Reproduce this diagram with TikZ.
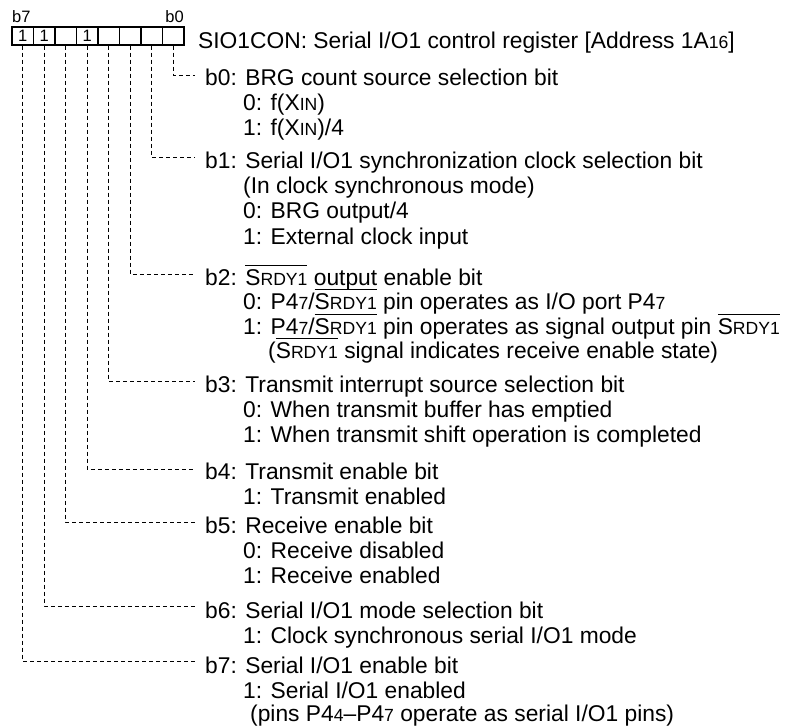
\documentclass[tikz,border=0pt]{standalone}
\usepackage{fontspec}
\setmainfont{Liberation Sans}
\newcommand\sm[1]{{\fontsize{17.6pt}{17.6pt}\selectfont #1}}
\newcommand\ovl[1]{\setbox0\hbox{#1}\rlap{\rule[\dimexpr\ht0+3.5pt\relax]{\wd0}{1pt}}\box0\relax}
\tikzset{
  txt/.style={anchor=base west, inner sep=0pt, font=\fontsize{22.8pt}{25pt}\selectfont, text=black},
  cell/.style={draw, line width=1.2pt, minimum width=21.5pt, minimum height=18pt, inner sep=0pt, font=\fontsize{16.5pt}{16.5pt}\selectfont},
  bitlab/.style={inner sep=0pt, font=\fontsize{16.5pt}{16.5pt}\selectfont},
  conn/.style={draw, line width=0.7pt, dash pattern=on 4pt off 3pt}
}
\begin{document}
\begin{tikzpicture}[x=1pt,y=-1pt]
\useasboundingbox (0,0) rectangle (788,726);
% register cells
\foreach \k/\v in {7/1,6/1,5/,4/1,3/,2/,1/,0/}
  \node[cell] (c\k) at ({22.75+(7-\k)*21.5},36) {\v};
\node[bitlab, anchor=base west] (lb7) at (12,22) {b7};
\node[bitlab, anchor=base east] (lb0) at (184,22) {b0};
\node[txt] (title) at (198,48) {SIO1CON: Serial I/O1 control register [Address 1A\sm{16}]};
% b0
\node[txt] (b0) at (205,85) {b0: BRG count source selection bit};
\node[txt] (b0a) at (243,110) {0: f(X\sm{IN})};
\node[txt] (b0b) at (243,135) {1: f(X\sm{IN})/4};
% b1
\node[txt] (b1) at (205,168) {b1: Serial I/O1 synchronization clock selection bit};
\node[txt] (b1a) at (243,193) {(In clock synchronous mode)};
\node[txt] (b1b) at (243,218.5) {0: BRG output/4};
\node[txt] (b1c) at (243,244) {1: External clock input};
% b2
\node[txt] (b2) at (205,285) {b2: \ovl{S\sm{RDY1}} output enable bit};
\node[txt] (b2a) at (243,309.5) {0: P4\sm{7}/\ovl{S\sm{RDY1}} pin operates as I/O port P4\sm{7}};
\node[txt] (b2b) at (243,334) {1: P4\sm{7}/\ovl{S\sm{RDY1}} pin operates as signal output pin \ovl{S\sm{RDY1}}};
\node[txt] (b2c) at (268,358.5) {(\ovl{S\sm{RDY1}} signal indicates receive enable state)};
% b3
\node[txt] (b3) at (205,392) {b3: Transmit interrupt source selection bit};
\node[txt] (b3a) at (243,417) {0: When transmit buffer has emptied};
\node[txt] (b3b) at (243,442) {1: When transmit shift operation is completed};
% b4
\node[txt] (b4) at (205,479) {b4: Transmit enable bit};
\node[txt] (b4a) at (243,504) {1: Transmit enabled};
% b5
\node[txt] (b5) at (205,533) {b5: Receive enable bit};
\node[txt] (b5a) at (243,558) {0: Receive disabled};
\node[txt] (b5b) at (243,583) {1: Receive enabled};
% b6
\node[txt] (b6) at (205,618) {b6: Serial I/O1 mode selection bit};
\node[txt] (b6a) at (243,643) {1: Clock synchronous serial I/O1 mode};
% b7
\node[txt] (b7) at (205,673) {b7: Serial I/O1 enable bit};
\node[txt] (b7a) at (243,698) {1: Serial I/O1 enabled};
\node[txt] (b7b) at (250,721) {(pins P4\sm{4}--P4\sm{7} operate as serial I/O1 pins)};
% connector ends
\foreach \k/\y in {0/75,1/157,2/274,3/381,4/469,5/522,6/606,7/661}
  \coordinate (e\k) at (195,\y);
\foreach \k in {0,...,7}
  \draw[conn] (c\k.south) |- (e\k);
\end{tikzpicture}
\end{document}
